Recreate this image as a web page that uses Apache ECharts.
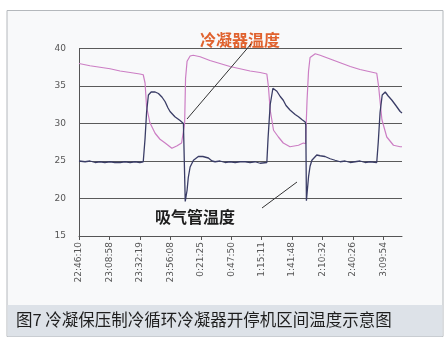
<!DOCTYPE html>
<html><head><meta charset="utf-8">
<script src="https://cdn.jsdelivr.net/npm/echarts@6/dist/echarts.min.js"></script>
<style>html,body{margin:0;padding:0;background:#fff}#c{width:446px;height:339px}</style>
</head><body><div id="c"></div>
<script>
// tick labels (sample times), one per x-axis tick unit
const tickLabels = ['22:46:10','23:08:58','23:32:19','23:56:08','0:21:25','0:47:50','1:15:11','1:41:48','2:10:32','2:40:26','3:09:54'];
const xMax = 10.61;
const yTicks = [15, 20, 25, 30, 35, 40];

// 冷凝器温度 (condenser temperature)
const condX = [0,0.36,0.69,1.02,1.35,1.68,2.00,2.11,2.17,2.22,2.33,2.50,2.66,2.83,3.05,3.21,3.37,3.42,3.47,3.50,3.55,3.65,3.75,3.81,3.98,4.30,4.63,4.96,5.29,5.62,5.95,6.17,6.22,6.28,6.39,6.55,6.71,6.93,7.21,7.37,7.44,7.49,7.54,7.59,7.76,7.92,8.25,8.58,8.91,9.23,9.56,9.78,9.84,9.95,10.11,10.33,10.55,10.61];
const condY = [38.0,37.7,37.5,37.3,37.0,36.8,36.6,36.5,35.4,32.2,30.1,28.7,27.9,27.4,26.7,27.0,27.4,27.2,30.0,36.0,38.3,39.0,39.1,39.1,38.9,38.4,38.0,37.6,37.3,37.0,36.8,36.6,35.0,31.8,29.1,28.2,27.4,26.9,27.1,27.4,27.3,33.0,37.0,38.8,39.3,39.1,38.6,38.1,37.6,37.2,36.9,36.7,35.0,30.5,28.2,27.1,26.9,26.9];

// 吸气管温度 (suction pipe temperature)
const suctX = [0,0.20,0.36,0.53,0.69,0.85,1.02,1.18,1.35,1.51,1.68,1.84,2.00,2.11,2.17,2.22,2.28,2.37,2.50,2.61,2.73,2.83,2.92,2.99,3.15,3.32,3.43,3.47,3.49,3.55,3.59,3.65,3.76,3.92,4.07,4.25,4.37,4.47,4.63,4.80,4.96,5.13,5.29,5.46,5.62,5.78,5.95,6.17,6.21,6.28,6.37,6.50,6.61,6.71,6.80,6.93,7.10,7.21,7.33,7.43,7.45,7.47,7.54,7.59,7.65,7.81,7.92,8.08,8.25,8.41,8.58,8.74,8.91,9.07,9.23,9.40,9.56,9.78,9.83,9.89,9.96,10.06,10.15,10.28,10.39,10.55,10.61];
const suctY = [25.0,24.9,25.0,24.8,24.9,24.8,24.9,24.8,24.8,24.9,24.8,24.9,24.8,24.9,28.0,31.5,33.8,34.2,34.2,34.0,33.5,32.9,32.1,31.6,30.9,30.4,30.0,29.8,19.6,21.1,22.8,24.2,25.1,25.6,25.6,25.4,25.0,24.9,25.0,24.8,24.9,24.8,24.9,24.9,24.8,24.9,24.7,24.8,28.0,32.5,34.7,34.3,33.6,33.1,32.4,31.8,31.2,30.9,30.5,30.2,29.8,19.7,22.9,24.3,25.1,25.8,25.7,25.6,25.3,25.1,24.9,25.0,24.8,24.9,25.0,24.8,24.9,24.8,27.5,31.5,33.8,34.2,33.7,33.1,32.5,31.6,31.4];

const zip = (xs, ys) => xs.map((x, i) => [x, ys[i]]);
const ff = '"Noto Sans CJK SC", "Noto Sans", sans-serif';

const chart = echarts.init(document.getElementById('c'), null, {renderer: 'canvas'});
chart.setOption({
  animation: false,
  backgroundColor: '#ffffff',
  graphic: [
    {type: 'rect', z: -10, shape: {x: 7, y: 10.5, width: 436, height: 326}, style: {fill: '#f8f9fa', stroke: '#b4b8bc', lineWidth: 1}},
    {type: 'rect', z: -9, shape: {x: 7.5, y: 305, width: 435, height: 31.5}, style: {fill: '#dde2e8'}},
    {type: 'text', left: 16, top: 311, style: {text: '图7 冷凝保压制冷循环冷凝器开停机区间温度示意图', fill: '#1e1e1e', font: '16.5px ' + ff}},
    {type: 'text', left: 200, top: 32, z: 20, style: {text: '冷凝器温度', fill: '#e0622e', font: 'bold 16px ' + ff}},
    {type: 'text', left: 155, top: 209, z: 20, style: {text: '吸气管温度', fill: '#1e1e1e', font: 'bold 16px ' + ff}},
    {type: 'line', z: 20, shape: {x1: 251, y1: 44, x2: 187, y2: 119}, style: {stroke: '#333', lineWidth: 1}},
    {type: 'line', z: 20, shape: {x1: 262, y1: 208, x2: 297, y2: 182}, style: {stroke: '#333', lineWidth: 1}}
  ],
  grid: {left: 79, top: 48.5, width: 323, height: 187.5},
  xAxis: {
    type: 'value', min: 0, max: xMax, interval: 1,
    axisLine: {lineStyle: {color: '#555', width: 1}},
    axisTick: {show: true, length: 4, customValues: tickLabels.map((_, i) => i), lineStyle: {color: '#555'}},
    splitLine: {show: false},
    axisLabel: {
      customValues: tickLabels.map((_, i) => i),
      rotate: 90, fontSize: 9, color: '#555', margin: 6, fontFamily: 'DejaVu Sans',
      formatter: v => tickLabels[Math.round(v)] || ''
    }
  },
  yAxis: {
    type: 'value', min: yTicks[0], max: yTicks[yTicks.length - 1], interval: 5,
    axisLine: {show: true, lineStyle: {color: '#555', width: 1}},
    axisTick: {show: false},
    splitLine: {show: true, lineStyle: {color: '#5a5a5a', width: 1}},
    axisLabel: {fontSize: 9, color: '#555', margin: 13, fontFamily: 'DejaVu Sans'}
  },
  series: [
    {name: '冷凝器温度', type: 'line', data: zip(condX, condY), showSymbol: false, lineStyle: {color: '#cc7ec4', width: 1.2}, z: 3},
    {name: '吸气管温度', type: 'line', data: zip(suctX, suctY), showSymbol: false, lineStyle: {color: '#3a3d66', width: 1.3}, z: 4}
  ]
});
</script></body></html>
